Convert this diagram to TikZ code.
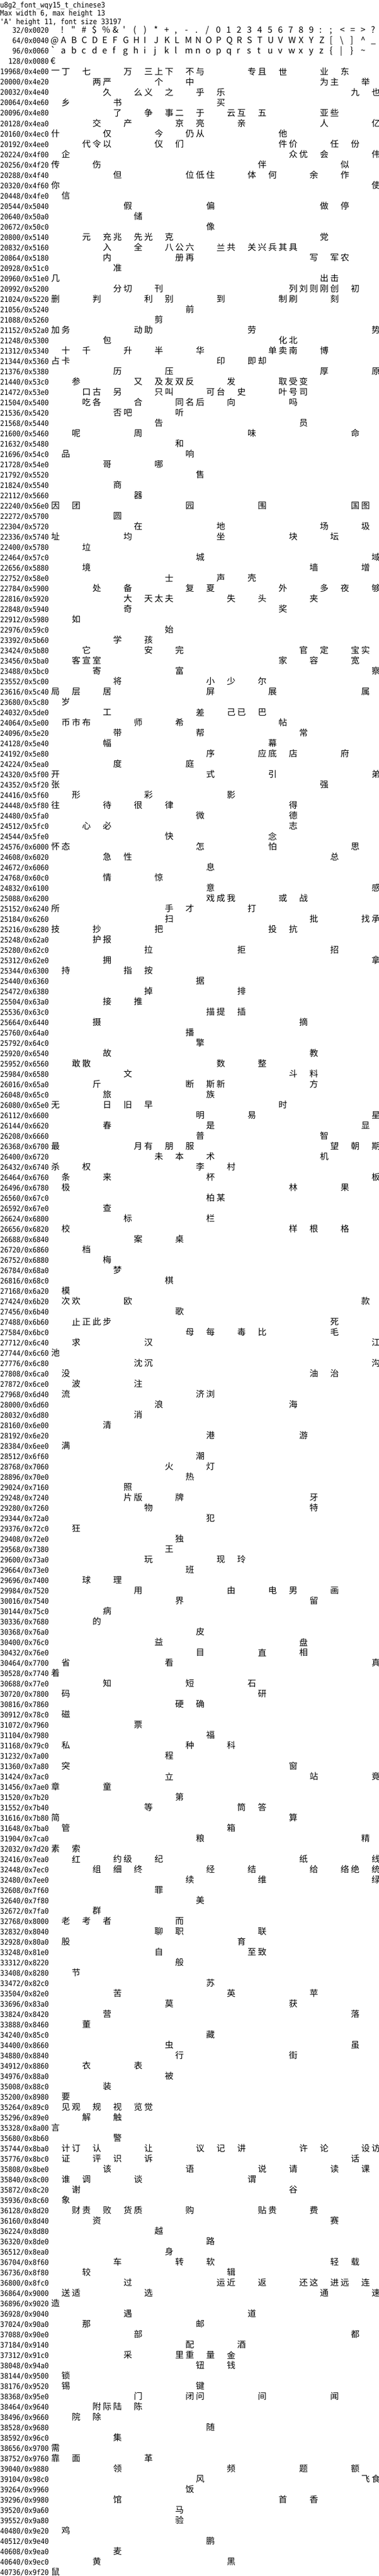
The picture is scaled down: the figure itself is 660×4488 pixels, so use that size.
\documentclass[tikz,border=0pt]{standalone}
\usepackage{fontspec}
\newfontfamily\glyphfont{Noto Sans CJK SC}
\newfontfamily\tablefont[FakeStretch=0.9]{DejaVu Sans Mono}

% one row of the table: hex base, then the glyphs of that row
\newcount\rowno
\rowno=4
\newcommand\glyphrow[2]{%
  \uppercase{\edef\rowbase{\number"#1}}%
  \pgfmathsetmacro\rowy{53+18*\the\rowno}%
  \node[codelabel] (row#1) at (85,\rowy+5) {\rowbase/0x#1};
  \glyphloop#2\glyphend
  \global\advance\rowno by 1\relax}
\def\glyphend{\glyphend}
\def\glyphloop#1{%
  \ifx#1\glyphend\let\glyphnext\relax
  \else\def\glyphnext{\placeglyph#1\glyphloop}\fi
  \glyphnext}
\newcommand\placeglyph[1]{%
  \edef\glyphcode{\number`#1}%
  \edef\glyphcol{\the\numexpr\glyphcode-\rowbase\relax}%
  \node[glyph] (g\glyphcode) at (96.5+18*\glyphcol,\rowy) {#1};}

\begin{document}
\begin{tikzpicture}[x=1pt, y=-1pt]
  \tikzstyle{every node}=[inner sep=0pt, outer sep=0pt]
  \tikzstyle{heading}=[anchor=base west, font=\tablefont\fontsize{13}{13}\selectfont]
  \tikzstyle{codelabel}=[anchor=base east, font=\tablefont\fontsize{13}{13}\selectfont]
  \tikzstyle{glyph}=[font=\glyphfont\fontsize{15}{15}\selectfont]
  \tikzstyle{latin}=[anchor=base west, font=\glyphfont\fontsize{15}{15}\selectfont]
  \useasboundingbox (0,0) rectangle (660,4488);
  \fill[white] (0,0) rectangle (660,4488);

  % heading
  \node[heading] (fontname) at (0,13.5) {u8g2\_font\_wqy15\_t\_chinese3};
  \node[heading] (maxsize) at (0,28) {Max width 6, max height 13};
  \node[heading] (capsize) at (0,42.3) {\char39 A\char39{} height 11, font size 33197};

  % ascii rows
  \node[codelabel] (row0020) at (85,58) {32/0x0020};
  \foreach \k in {1,...,31} \node[latin] (a\k) at ({88+18*\k},58) {\char\numexpr32+\k\relax};
  \node[codelabel] (row0040) at (85,76) {64/0x0040};
  \foreach \k in {0,...,31} \node[latin] (b\k) at ({88+18*\k},76) {\char\numexpr64+\k\relax};
  \node[codelabel] (row0060) at (85,94) {96/0x0060};
  \foreach \k in {0,...,30} \node[latin] (c\k) at ({88+18*\k},94) {\char\numexpr96+\k\relax};
  \node[codelabel] (row0080) at (85,112) {128/0x0080};
  \node[latin] (euro) at (88,112) {€};

  % chinese rows
  \glyphrow{4e00}{一丁七万三上下不与专且世业东}
  \glyphrow{4e20}{两严个中为主举}
  \glyphrow{4e40}{久么义之乎乐九也}
  \glyphrow{4e60}{乡书买}
  \glyphrow{4e80}{了争事二于云互五亚些}
  \glyphrow{4ea0}{交产京亮亲人亿}
  \glyphrow{4ec0}{什仅今仍从他}
  \glyphrow{4ee0}{代令以仪们件价任份}
  \glyphrow{4f00}{企众优会伟}
  \glyphrow{4f20}{传伤伴似}
  \glyphrow{4f40}{但位低住体何余作}
  \glyphrow{4f60}{你使}
  \glyphrow{4fe0}{信}
  \glyphrow{5040}{假偏做停}
  \glyphrow{50a0}{储}
  \glyphrow{50c0}{像}
  \glyphrow{5140}{元充兆先光克党}
  \glyphrow{5160}{入全八公六兰共关兴兵其具}
  \glyphrow{5180}{内册再写军农}
  \glyphrow{51c0}{准}
  \glyphrow{51e0}{几出击}
  \glyphrow{5200}{分切刊列刘则刚创初}
  \glyphrow{5220}{删判利别到制刷刻}
  \glyphrow{5240}{前}
  \glyphrow{5260}{剪}
  \glyphrow{52a0}{加务动助劳势}
  \glyphrow{5300}{包化北}
  \glyphrow{5340}{十千升半华单卖南博}
  \glyphrow{5360}{占卡印即却}
  \glyphrow{5380}{历压厚原}
  \glyphrow{53c0}{参又及友双反发取受变}
  \glyphrow{53e0}{口古另只叫可台史叶号司}
  \glyphrow{5400}{吃各合同名后向吗}
  \glyphrow{5420}{否吧听}
  \glyphrow{5440}{告员}
  \glyphrow{5460}{呢周味命}
  \glyphrow{5480}{和}
  \glyphrow{54c0}{品响}
  \glyphrow{54e0}{哥哪}
  \glyphrow{5520}{售}
  \glyphrow{5540}{商}
  \glyphrow{5660}{器}
  \glyphrow{56e0}{因团园围国图}
  \glyphrow{5700}{圆}
  \glyphrow{5720}{在地场圾}
  \glyphrow{5740}{址均坐块坛}
  \glyphrow{5780}{垃}
  \glyphrow{57c0}{城域}
  \glyphrow{5880}{境墙增}
  \glyphrow{58e0}{士声壳}
  \glyphrow{5900}{处备复夏外多夜够}
  \glyphrow{5920}{大天太夫失头夹}
  \glyphrow{5940}{奇奖}
  \glyphrow{5980}{如}
  \glyphrow{59c0}{始}
  \glyphrow{5b60}{学孩}
  \glyphrow{5b80}{它安完官定宝实}
  \glyphrow{5ba0}{客宣室家容宽}
  \glyphrow{5bc0}{寄富察}
  \glyphrow{5c00}{将小少尔}
  \glyphrow{5c40}{局层居屏展属}
  \glyphrow{5c80}{岁}
  \glyphrow{5de0}{工差己已巴}
  \glyphrow{5e00}{币市布师希帖}
  \glyphrow{5e20}{带帮常}
  \glyphrow{5e40}{幅幕}
  \glyphrow{5e80}{序应底店府}
  \glyphrow{5ea0}{度庭}
  \glyphrow{5f00}{开式引弟}
  \glyphrow{5f20}{张强}
  \glyphrow{5f60}{形彩影}
  \glyphrow{5f80}{往待很律得}
  \glyphrow{5fa0}{微德}
  \glyphrow{5fc0}{心必志}
  \glyphrow{5fe0}{快念}
  \glyphrow{6000}{怀态怎怕思}
  \glyphrow{6020}{急性总}
  \glyphrow{6060}{息}
  \glyphrow{60c0}{情惊}
  \glyphrow{6100}{意感}
  \glyphrow{6200}{戏成我或战}
  \glyphrow{6240}{所手才打}
  \glyphrow{6260}{扫批找承}
  \glyphrow{6280}{技抄把投抗}
  \glyphrow{62a0}{护报}
  \glyphrow{62c0}{拉拒招}
  \glyphrow{62e0}{拥拿}
  \glyphrow{6300}{持指按}
  \glyphrow{6360}{据}
  \glyphrow{6380}{掉排}
  \glyphrow{63a0}{接推}
  \glyphrow{63c0}{描提插}
  \glyphrow{6440}{摄摘}
  \glyphrow{64a0}{播}
  \glyphrow{64c0}{擎}
  \glyphrow{6540}{故教}
  \glyphrow{6560}{敢散数整}
  \glyphrow{6580}{文斗料}
  \glyphrow{65a0}{斤断斯新方}
  \glyphrow{65c0}{旅族}
  \glyphrow{65e0}{无日旧早时}
  \glyphrow{6600}{明易星}
  \glyphrow{6620}{春是显}
  \glyphrow{6660}{普智}
  \glyphrow{6700}{最月有朋服望朝期}
  \glyphrow{6720}{未本术机}
  \glyphrow{6740}{杀权李村}
  \glyphrow{6760}{条来杯板}
  \glyphrow{6780}{极林果}
  \glyphrow{67c0}{柏某}
  \glyphrow{67e0}{查}
  \glyphrow{6800}{标栏}
  \glyphrow{6820}{校样根格}
  \glyphrow{6840}{案桌}
  \glyphrow{6860}{档}
  \glyphrow{6880}{梅}
  \glyphrow{68a0}{梦}
  \glyphrow{68c0}{棋}
  \glyphrow{6a20}{模}
  \glyphrow{6b20}{次欢欧款}
  \glyphrow{6b40}{歌}
  \glyphrow{6b60}{止正此步死}
  \glyphrow{6bc0}{母每毒比毛}
  \glyphrow{6c40}{求汉江}
  \glyphrow{6c60}{池}
  \glyphrow{6c80}{沈沉沟}
  \glyphrow{6ca0}{没油治}
  \glyphrow{6ce0}{波注}
  \glyphrow{6d40}{流济浏}
  \glyphrow{6d60}{浪海}
  \glyphrow{6d80}{消}
  \glyphrow{6e00}{清}
  \glyphrow{6e20}{港游}
  \glyphrow{6ee0}{满}
  \glyphrow{6f60}{潮}
  \glyphrow{7060}{火灯}
  \glyphrow{70e0}{热}
  \glyphrow{7160}{照}
  \glyphrow{7240}{片版牌牙}
  \glyphrow{7260}{物特}
  \glyphrow{72a0}{犯}
  \glyphrow{72c0}{狂}
  \glyphrow{72e0}{独}
  \glyphrow{7380}{王}
  \glyphrow{73a0}{玩现玲}
  \glyphrow{73e0}{班}
  \glyphrow{7400}{球理}
  \glyphrow{7520}{用由电男画}
  \glyphrow{7540}{界留}
  \glyphrow{75c0}{病}
  \glyphrow{7680}{的}
  \glyphrow{76a0}{皮}
  \glyphrow{76c0}{益盘}
  \glyphrow{76e0}{目直相}
  \glyphrow{7700}{省看真}
  \glyphrow{7740}{着}
  \glyphrow{77e0}{知短石}
  \glyphrow{7800}{码研}
  \glyphrow{7860}{硬确}
  \glyphrow{78c0}{磁}
  \glyphrow{7960}{票}
  \glyphrow{7980}{福}
  \glyphrow{79c0}{私种科}
  \glyphrow{7a00}{程}
  \glyphrow{7a80}{突窗}
  \glyphrow{7ac0}{立站竟}
  \glyphrow{7ae0}{章童}
  \glyphrow{7b20}{第}
  \glyphrow{7b40}{等筒答}
  \glyphrow{7b80}{简算}
  \glyphrow{7ba0}{管箱}
  \glyphrow{7ca0}{粮精}
  \glyphrow{7d20}{素索}
  \glyphrow{7ea0}{红约级纪纸线}
  \glyphrow{7ec0}{组细终经结给络绝统}
  \glyphrow{7ee0}{续维绿}
  \glyphrow{7f60}{罪}
  \glyphrow{7f80}{美}
  \glyphrow{7fa0}{群}
  \glyphrow{8000}{老考者而}
  \glyphrow{8040}{聊职联}
  \glyphrow{80a0}{股育}
  \glyphrow{81e0}{自至致}
  \glyphrow{8220}{般}
  \glyphrow{8280}{节}
  \glyphrow{82c0}{苏}
  \glyphrow{82e0}{苦英苹}
  \glyphrow{83a0}{莫获}
  \glyphrow{8420}{营落}
  \glyphrow{8460}{董}
  \glyphrow{85c0}{藏}
  \glyphrow{8660}{虫虽}
  \glyphrow{8840}{行街}
  \glyphrow{8860}{衣表}
  \glyphrow{88a0}{被}
  \glyphrow{88c0}{装}
  \glyphrow{8980}{要}
  \glyphrow{89c0}{见观规视览觉}
  \glyphrow{89e0}{解触}
  \glyphrow{8a00}{言}
  \glyphrow{8b60}{警}
  \glyphrow{8ba0}{计订认让议记讲许论设访}
  \glyphrow{8bc0}{证评识诉话}
  \glyphrow{8be0}{该语说请读课}
  \glyphrow{8c00}{谁调谈谓}
  \glyphrow{8c20}{谢谷}
  \glyphrow{8c60}{象}
  \glyphrow{8d20}{财责败货质购贴贵费}
  \glyphrow{8d40}{资赛}
  \glyphrow{8d80}{越}
  \glyphrow{8de0}{路}
  \glyphrow{8ea0}{身}
  \glyphrow{8f60}{车转软轻载}
  \glyphrow{8f80}{较辑}
  \glyphrow{8fc0}{过运近返还这进远连}
  \glyphrow{9000}{送适选通速}
  \glyphrow{9020}{造}
  \glyphrow{9040}{遇道}
  \glyphrow{90a0}{那邮}
  \glyphrow{90e0}{部都}
  \glyphrow{9140}{配酒}
  \glyphrow{91c0}{采里重量金}
  \glyphrow{94a0}{钮钱}
  \glyphrow{9500}{锁}
  \glyphrow{9520}{锡键}
  \glyphrow{95e0}{门闭问间闻}
  \glyphrow{9640}{附际陆陈}
  \glyphrow{9660}{院除}
  \glyphrow{9680}{随}
  \glyphrow{96c0}{集}
  \glyphrow{9700}{需}
  \glyphrow{9760}{靠面革}
  \glyphrow{9880}{领频题额}
  \glyphrow{98c0}{风飞食}
  \glyphrow{9960}{饭}
  \glyphrow{9980}{馆首香}
  \glyphrow{9a60}{马}
  \glyphrow{9a80}{验}
  \glyphrow{9e20}{鸡}
  \glyphrow{9e40}{鹏}
  \glyphrow{9ea0}{麦}
  \glyphrow{9ec0}{黄黑}
  \glyphrow{9f20}{鼠}
\end{tikzpicture}
\end{document}
